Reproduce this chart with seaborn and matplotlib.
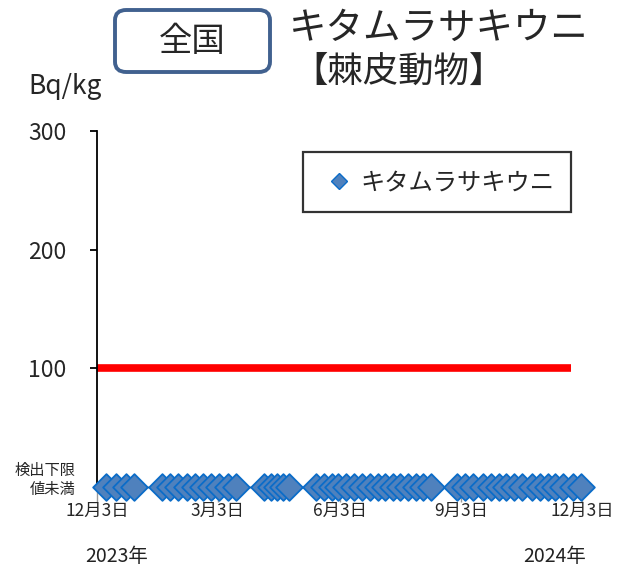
import matplotlib
matplotlib.use("Agg")
import matplotlib.pyplot as plt
import seaborn as sns
import pandas as pd
import numpy as np
from matplotlib.lines import Line2D
from matplotlib.patches import FancyBboxPatch

sns.set_style("white")
plt.rcParams['font.family'] = ['Noto Sans CJK JP', 'DejaVu Sans']

# ---- data ----
sample_dates = [
    "2023-12-10", "2023-12-17", "2023-12-25", "2023-12-31",
    "2024-01-21", "2024-01-27", "2024-02-02", "2024-02-09", "2024-02-15",
    "2024-02-21", "2024-02-27", "2024-03-04", "2024-03-11", "2024-03-17",
    "2024-04-07", "2024-04-12", "2024-04-17", "2024-04-21", "2024-04-26",
    "2024-05-16", "2024-05-22", "2024-05-28", "2024-06-02", "2024-06-08",
    "2024-06-14", "2024-06-20", "2024-06-26", "2024-07-02", "2024-07-07",
    "2024-07-13", "2024-07-19", "2024-07-25", "2024-07-31", "2024-08-05",
    "2024-08-11",
    "2024-08-31", "2024-09-06", "2024-09-12", "2024-09-19", "2024-09-25",
    "2024-10-01", "2024-10-07", "2024-10-13", "2024-10-19", "2024-10-26",
    "2024-11-01", "2024-11-07", "2024-11-13", "2024-11-19", "2024-11-26",
    "2024-12-02",
]
sample_values = [0] * len(sample_dates)  # all below detection limit
series_name = "キタムラサキウニ"

limit_dates = ["2023-12-03", "2024-11-25"]
limit_values = [100, 100]

xtick_dates = ["2023-12-03", "2024-03-03", "2024-06-03", "2024-09-03", "2024-12-03"]
xtick_labels = ["12月3日", "3月3日", "6月3日", "9月3日", "12月3日"]
ytick_values = [100, 200, 300]
ytick_labels = ["100", "200", "300"]
zero_label = "検出下限\n値未満"
year_labels = ["2023年", "2024年"]

df = pd.DataFrame({"date": pd.to_datetime(sample_dates), "value": sample_values})
lim_df = pd.DataFrame({"date": pd.to_datetime(limit_dates), "value": limit_values})

W, H = 623, 567
fig = plt.figure(figsize=(W / 100, H / 100), dpi=100)
ax = fig.add_axes([97 / W, (H - 487) / H, (582 - 97) / W, (487 - 131) / H])

sns.lineplot(data=lim_df, x="date", y="value", color="#FF0000", linewidth=5.5,
             ax=ax, legend=False, zorder=2, solid_capstyle="butt")
sns.scatterplot(data=df, x="date", y="value", marker="D", s=185,
                color="#4F81BD", edgecolor="#0B6CC8", linewidth=1.3,
                ax=ax, legend=False, zorder=5, clip_on=False)

ax.set_xlim(pd.Timestamp("2023-12-03"), pd.Timestamp("2024-12-03"))
ax.set_ylim(0, 300)
ax.set_xlabel("")
ax.set_ylabel("")

for s in ["top", "right"]:
    ax.spines[s].set_visible(False)
ax.spines["left"].set_color("black")
ax.spines["left"].set_linewidth(1.3)
ax.spines["bottom"].set_color("black")
ax.spines["bottom"].set_linewidth(1.0)

ax.set_yticks(ytick_values)
ax.set_yticklabels(ytick_labels, fontsize=16.5)
ax.tick_params(axis="y", length=5, width=1.3, color="black", pad=17, left=True)

ax.set_xticks(pd.to_datetime(xtick_dates))
ax.set_xticklabels(xtick_labels, fontsize=12.5)
ax.tick_params(axis="x", length=11, width=1.0, color="#999999", pad=0, bottom=True)

ax.text(-0.045, 0.02, zero_label, transform=ax.transAxes, ha="right", va="center",
        fontsize=11, linespacing=1.1)

fig.text(65 / W, 1 - 87 / H, "Bq/kg", ha="center", va="center", fontsize=19)
fig.text(117 / W, 1 - 557 / H, year_labels[0], ha="center", va="center", fontsize=14, color="#222222")
fig.text(555 / W, 1 - 557 / H, year_labels[1], ha="center", va="center", fontsize=14, color="#222222")

# title box
box = FancyBboxPatch((115 / W, 1 - 72 / H), (270 - 115) / W, (72 - 10) / H,
                     boxstyle="round,pad=0,rounding_size=0.018",
                     transform=fig.transFigure, facecolor="white",
                     edgecolor="#41618F", linewidth=2.8)
fig.patches.append(box)
fig.text(192 / W, 1 - 42 / H, "全国", ha="center", va="center", fontsize=24)
fig.text(439 / W, 1 - 28 / H, series_name, ha="center", va="center", fontsize=27)
fig.text(399 / W, 1 - 72 / H, "【棘皮動物】", ha="center", va="center", fontsize=25.5)

handle = Line2D([], [], marker="D", linestyle="none", markersize=8,
                markerfacecolor="#4F81BD", markeredgecolor="#0B6CC8", markeredgewidth=1.0)
leg = ax.legend([handle], [series_name], loc="upper left",
                bbox_to_anchor=(303 / W, 1 - 152 / H), bbox_transform=fig.transFigure,
                fontsize=17.5, frameon=True, fancybox=False, borderpad=0.7,
                handlelength=1.6, handletextpad=0.05, borderaxespad=0)
leg.get_frame().set_edgecolor("black")
leg.get_frame().set_linewidth(1.6)

fig.savefig("out.png", dpi=100)
